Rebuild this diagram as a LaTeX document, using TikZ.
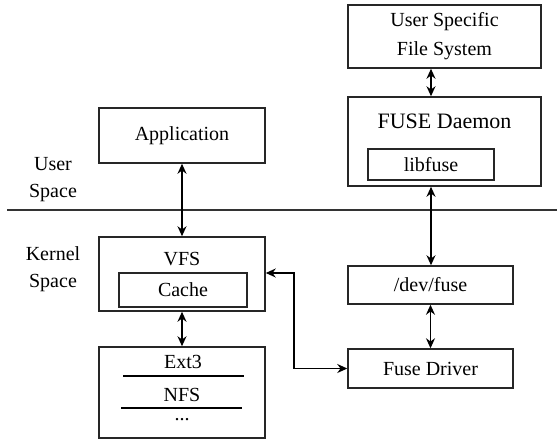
\documentclass[tikz,border=0pt]{standalone}
\usepackage{fontspec}
\setmainfont{Liberation Serif}
\usetikzlibrary{arrows.meta}
\begin{document}
\begin{tikzpicture}[x=1pt,y=-1pt,
  box/.style={draw=black!85,line width=1.5pt,inner sep=0pt,font=\fontsize{20}{29}\selectfont,align=center,text=black},
  txt/.style={inner sep=0pt,font=\fontsize{20}{27}\selectfont,align=center,text=black},
  conn/.style={draw=black,line width=1.4pt,{Stealth[length=10pt,width=9pt]}-{Stealth[length=10pt,width=9pt]}},
  sep/.style={draw=black!80,line width=1.5pt}]
\useasboundingbox (0,0) rectangle (557,440);
% user space
\node[box,minimum width=166pt,minimum height=55pt] (app) at (182,135.5) {Application};
\node[box,minimum width=193pt,minimum height=63pt] (usfs) at (444.5,36.5) {User Specific\\File System};
\node[box,minimum width=193pt,minimum height=89pt] (fused) at (444.5,141.5) {};
\node[txt,font=\fontsize{22}{27}\selectfont] (fusedt) at (444.5,121) {FUSE Daemon};
\node[box,minimum width=126pt,minimum height=31pt] (libfuse) at (431,164.5) {libfuse};
\node[txt] (ulabel) at (53,179.5) {User\\Space};
\node[txt] (klabel) at (53,269.5) {Kernel\\Space};
% separator
\coordinate (sl) at (7,210);
\coordinate (sr) at (557,210);
\draw[sep] (sl) -- (sr);
% kernel space
\node[box,minimum width=166pt,minimum height=74pt] (vfs) at (182,274) {};
\node[txt] (vfst) at (182,259) {VFS};
\node[box,minimum width=128pt,minimum height=34pt] (cache) at (183,290) {Cache};
\node[box,minimum width=166pt,minimum height=91pt] (fs) at (182,392.5) {};
\node[txt] (ext) at (183,362) {Ext3};
\node[txt] (nfs) at (182,395) {NFS};
\node[txt] (dots) at (182,420) {...};
\coordinate (l1a) at (123,376); \coordinate (l1b) at (244,376);
\coordinate (l2a) at (121,408); \coordinate (l2b) at (242,408);
\draw[sep,draw=black] (l1a) -- (l1b);
\draw[sep,draw=black] (l2a) -- (l2b);
\node[box,minimum width=165pt,minimum height=38pt] (devfuse) at (430.5,285) {/dev/fuse};
\node[box,minimum width=165pt,minimum height=39pt] (fdriver) at (430.5,368.5) {Fuse Driver};
% connectors
\draw[conn] (app.south) -- (vfs.north);
\draw[conn] (vfs.south) -- (fs.north);
\draw[conn] (libfuse |- usfs.south) -- (libfuse |- fused.north);
\draw[conn] (libfuse |- fused.south) -- (libfuse |- devfuse.north);
\draw[conn] (devfuse.south) -- (fdriver.north);
\coordinate (bend) at (294,273);
\draw[conn] (vfs.east |- bend) -- (bend) |- (fdriver.west);
\end{tikzpicture}
\end{document}
